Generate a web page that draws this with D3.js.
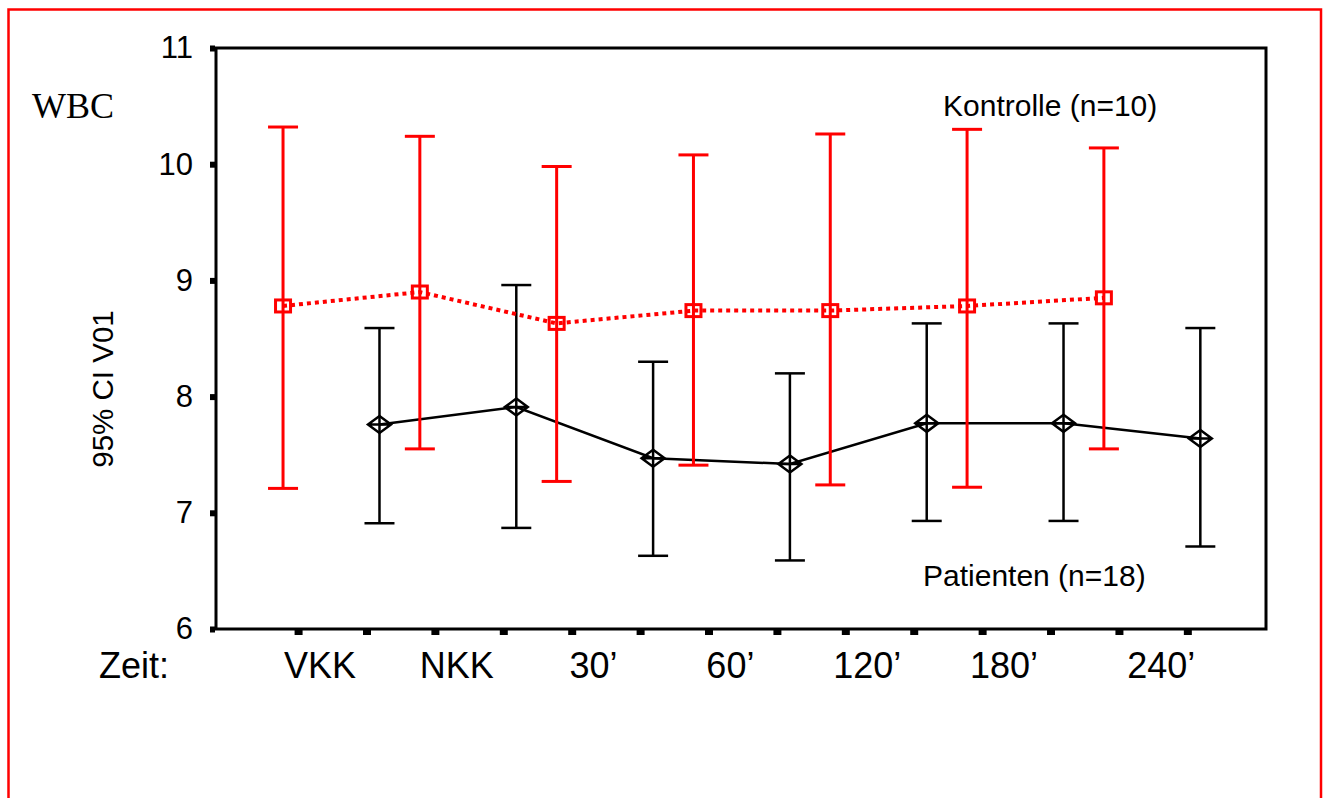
<!DOCTYPE html>
<html>
<head>
<meta charset="utf-8">
<script src="https://cdn.jsdelivr.net/npm/d3@7"></script>
<style>
  html, body { margin: 0; padding: 0; background: #fff; }
  svg { display: block; }
</style>
</head>
<body>
<svg id="chart" width="1328" height="798"></svg>
<script>
// ---- Data ----
const categories = ["VKK", "NKK", "30\u2019", "60\u2019", "120\u2019", "180\u2019", "240\u2019"];
const yTicks = [6, 7, 8, 9, 10, 11];

const kontrolleMean = [8.78, 8.90, 8.63, 8.74, 8.74, 8.78, 8.85];
const kontrolleLow  = [7.21, 7.55, 7.27, 7.41, 7.24, 7.22, 7.55];
const kontrolleHigh = [10.32, 10.24, 9.98, 10.08, 10.26, 10.30, 10.14];

const patientenMean = [7.76, 7.91, 7.47, 7.42, 7.77, 7.77, 7.64];
const patientenLow  = [6.91, 6.87, 6.63, 6.59, 6.93, 6.93, 6.71];
const patientenHigh = [8.59, 8.96, 8.30, 8.20, 8.63, 8.63, 8.59];

const seriesLabels = ["Kontrolle (n=10)", "Patienten (n=18)"];

// ---- Layout ----
const svg = d3.select("#chart");
const box = { left: 216, right: 1266, top: 48, bottom: 629 };
const FONT = "'Liberation Sans', Arial, Helvetica, sans-serif";

// x in "slot" units: 14 small tick slots across the axis
const x = d3.scaleLinear().domain([-0.2, 15.15]).range([box.left, box.right]);
const y = d3.scaleLinear().domain([6, 11]).range([box.bottom, box.top]);

const catIndex = d3.range(categories.length);
const redPos   = i => x(0.78 + 2 * i);
const blackPos = i => x(2.19 + 2 * i);
const labelPos = i => x(1.32 + 2 * i + (i === categories.length - 1 ? 0.3 : 0));

// outer red frame (no bottom edge visible)
svg.append("rect")
  .attr("x", 8.5).attr("y", 9.5)
  .attr("width", 1312.5).attr("height", 820)
  .attr("fill", "none").attr("stroke", "#ff0000").attr("stroke-width", 2.5);

// plot frame
svg.append("rect")
  .attr("x", box.left).attr("y", box.top)
  .attr("width", box.right - box.left).attr("height", box.bottom - box.top)
  .attr("fill", "none").attr("stroke", "#000").attr("stroke-width", 3);

// y axis
const yAxis = svg.append("g")
  .attr("transform", `translate(${box.left - 1},0)`)
  .call(d3.axisLeft(y).tickValues(yTicks).tickSize(5).tickPadding(17).tickFormat(d3.format("d")));
yAxis.select(".domain").remove();
yAxis.selectAll(".tick line").attr("stroke", "#000").attr("stroke-width", 6);
yAxis.selectAll(".tick text")
  .attr("font-family", FONT).attr("font-size", 31).attr("fill", "#000");

// x axis small ticks
const xAxis = svg.append("g")
  .attr("transform", `translate(0,${box.bottom + 1})`)
  .call(d3.axisBottom(x).tickValues(d3.range(1, 15)).tickSize(5).tickFormat(""));
xAxis.select(".domain").remove();
xAxis.selectAll(".tick line").attr("stroke", "#000").attr("stroke-width", 8);

// x category labels
svg.append("text")
  .attr("x", 134).attr("y", 678)
  .attr("text-anchor", "middle")
  .attr("font-family", FONT).attr("font-size", 36)
  .text("Zeit:");
svg.selectAll("text.cat").data(catIndex).join("text")
  .attr("class", "cat")
  .attr("x", i => labelPos(i)).attr("y", 678)
  .attr("text-anchor", "middle")
  .attr("font-family", FONT).attr("font-size", 36)
  .text(i => categories[i]);

// titles
svg.append("text")
  .attr("x", 32).attr("y", 118)
  .attr("font-family", "'Liberation Serif', 'Times New Roman', serif").attr("font-size", 36)
  .text("WBC");
svg.append("text")
  .attr("transform", "translate(113,389) rotate(-90)")
  .attr("text-anchor", "middle")
  .attr("font-family", FONT).attr("font-size", 29.5)
  .text("95% CI V01");
svg.append("text")
  .attr("x", 943).attr("y", 116)
  .attr("font-family", FONT).attr("font-size", 30)
  .text(seriesLabels[0]);
svg.append("text")
  .attr("x", 923).attr("y", 586)
  .attr("font-family", FONT).attr("font-size", 30)
  .text(seriesLabels[1]);

function drawSeries(pos, mean, low, high, color, lineW, dash, marker) {
  const g = svg.append("g");
  const capW = 15;
  // error bars
  g.selectAll("line.v").data(catIndex).join("line")
    .attr("x1", i => pos(i)).attr("x2", i => pos(i))
    .attr("y1", i => y(low[i])).attr("y2", i => y(high[i]))
    .attr("stroke", color).attr("stroke-width", lineW);
  g.selectAll("line.capH").data(catIndex).join("line")
    .attr("x1", i => pos(i) - capW).attr("x2", i => pos(i) + capW)
    .attr("y1", i => y(high[i])).attr("y2", i => y(high[i]))
    .attr("stroke", color).attr("stroke-width", lineW);
  g.selectAll("line.capL").data(catIndex).join("line")
    .attr("x1", i => pos(i) - capW).attr("x2", i => pos(i) + capW)
    .attr("y1", i => y(low[i])).attr("y2", i => y(low[i]))
    .attr("stroke", color).attr("stroke-width", lineW);
  // connecting line
  const line = d3.line().x(i => pos(i)).y(i => y(mean[i]));
  g.append("path")
    .attr("d", line(catIndex))
    .attr("fill", "none").attr("stroke", color)
    .attr("stroke-width", dash ? 4 : 2.5)
    .attr("stroke-dasharray", dash || null);
  // markers
  if (marker === "square") {
    g.selectAll("rect.m").data(catIndex).join("rect")
      .attr("x", i => pos(i) - 7.5).attr("y", i => y(mean[i]) - 6)
      .attr("width", 15).attr("height", 12)
      .attr("fill", "none").attr("stroke", color).attr("stroke-width", 3);
  } else {
    g.selectAll("path.m").data(catIndex).join("path")
      .attr("d", "M0,-8.5L11.5,0L0,8.5L-11.5,0Z M-11.5,0L11.5,0")
      .attr("transform", i => `translate(${pos(i)},${y(mean[i])})`)
      .attr("fill", "none").attr("stroke", color).attr("stroke-width", 2.5);
  }
}

drawSeries(blackPos, patientenMean, patientenLow, patientenHigh, "#000", 2.5, null, "diamond");
drawSeries(redPos, kontrolleMean, kontrolleLow, kontrolleHigh, "#ff0000", 3, "4,4", "square");
</script>
</body>
</html>
